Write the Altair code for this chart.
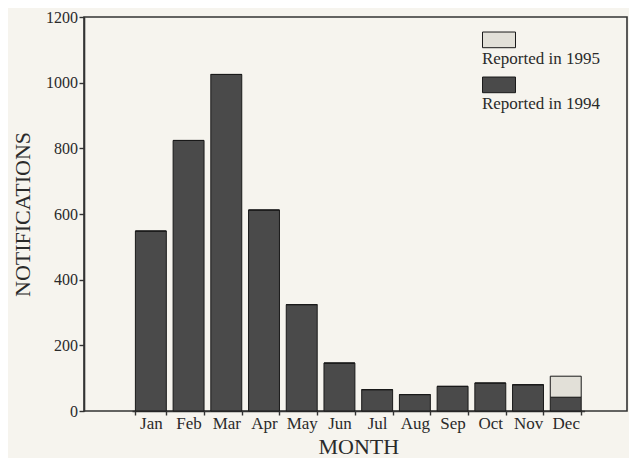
import altair as alt
import pandas as pd

months = ["Jan", "Feb", "Mar", "Apr", "May", "Jun", "Jul", "Aug", "Sep", "Oct", "Nov", "Dec"]
reported_1994 = [548, 824, 1025, 612, 324, 146, 65, 50, 75, 85, 80, 42]
reported_1995 = [0, 0, 0, 0, 0, 0, 0, 0, 0, 0, 0, 64]
series = ["Reported in 1995", "Reported in 1994"]
y_ticks = [0, 200, 400, 600, 800, 1000, 1200]

rows = []
for m, a, b in zip(months, reported_1994, reported_1995):
    rows.append({"month": m, "series": "Reported in 1994", "value": a, "ord": 0})
    rows.append({"month": m, "series": "Reported in 1995", "value": b, "ord": 1})
df = pd.DataFrame(rows)

FONT = "Liberation Serif"
INK = "#2a2a2a"

# legend swatch drawn above and to the left of the entry anchor, so the label sits beneath it
rect_path = "M-6.09,-1.15L-4.09,-1.15L-4.09,-0.2L-6.09,-0.2Z"

chart = alt.Chart(df).mark_bar(stroke="#1a1a1a", strokeWidth=1).encode(
    x=alt.X("month:N", sort=months,
            scale=alt.Scale(paddingInner=0.18, paddingOuter=0.09, range=[48, 500.6]),
            axis=alt.Axis(title="MONTH", labelAngle=0, tickBand="extent",
                          tickSize=4, labelPadding=0, titlePadding=5,
                          labelFont=FONT, labelFontSize=17, labelColor=INK,
                          titleFont=FONT, titleFontSize=22, titleFontWeight="normal",
                          titleColor=INK, domainColor="#333", domainWidth=1.6,
                          tickColor="#333", tickWidth=1.4, grid=False)),
    y=alt.Y("value:Q", stack="zero",
            scale=alt.Scale(domain=[0, 1200], nice=False),
            axis=alt.Axis(title="NOTIFICATIONS", values=y_ticks, format="d", tickSize=5,
                          labelPadding=1.5, titlePadding=11,
                          labelFont=FONT, labelFontSize=16, labelColor=INK,
                          titleFont=FONT, titleFontSize=22, titleFontWeight="normal",
                          titleColor=INK, domainColor="#333", domainWidth=1.6,
                          tickColor="#333", tickWidth=1.4, grid=False)),
    color=alt.Color("series:N",
                    scale=alt.Scale(domain=series, range=["#e2e0d8", "#4a4a4a"]),
                    legend=alt.Legend(title=None, orient="none", legendX=482, legendY=17,
                                      direction="vertical", symbolType=rect_path,
                                      symbolSize=1089, symbolStrokeColor="#1a1a1a",
                                      symbolStrokeWidth=1, symbolOpacity=1,
                                      labelOffset=0, labelAlign="right", labelBaseline="top",
                                      labelFont=FONT, labelFontSize=17, labelColor=INK,
                                      rowPadding=8, padding=0)),
    order=alt.Order("ord:Q", sort="ascending"),
).properties(
    width=543, height=394,
    autosize=alt.AutoSizeParams(type="none"),
    padding={"left": 76, "top": 9, "right": 2, "bottom": 47},
    background="#f6f4ee",
).configure_view(
    stroke="#333", strokeWidth=1.6, fill=None
)

chart.save("out.html", embed_options={"renderer": "svg", "actions": False})
